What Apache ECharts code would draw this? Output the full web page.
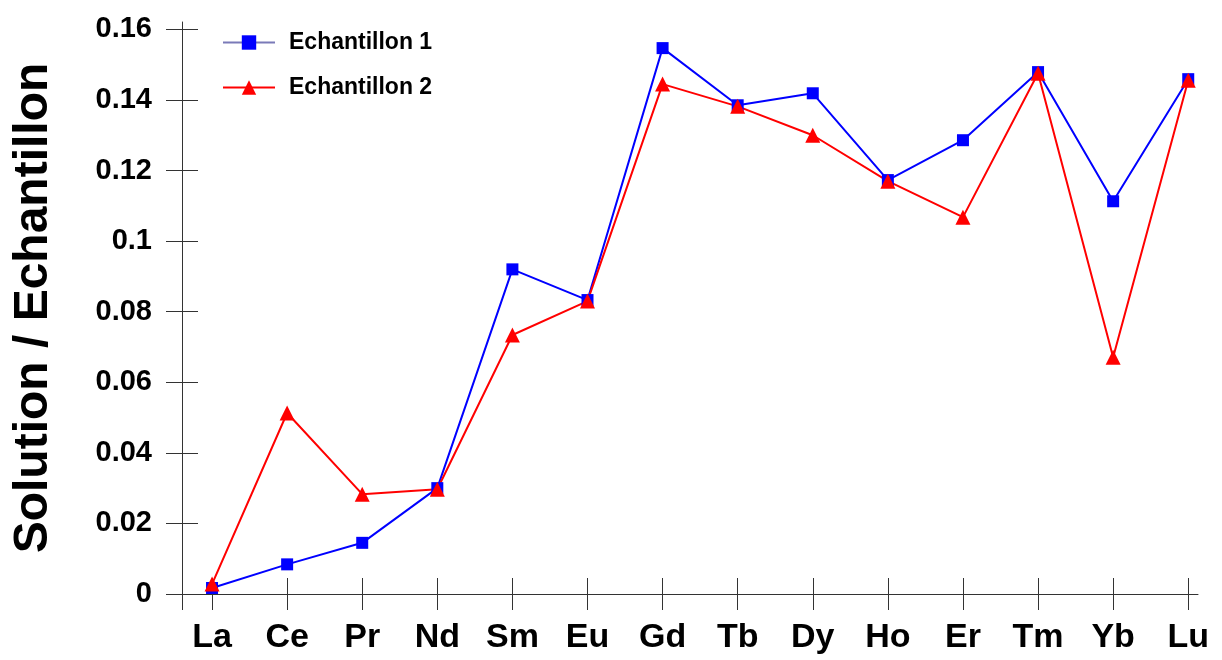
<!DOCTYPE html>
<html>
<head>
<meta charset="utf-8">
<script src="https://cdn.jsdelivr.net/npm/echarts@6/dist/echarts.min.js"></script>
<style>
  html, body { margin: 0; padding: 0; background: #fff; }
  #chart { width: 1222px; height: 660px; }
</style>
</head>
<body>
<div id="chart"></div>
<script>
var categories = ["La", "Ce", "Pr", "Nd", "Sm", "Eu", "Gd", "Tb", "Dy", "Ho", "Er", "Tm", "Yb", "Lu"];
var echantillon1 = [0.0017, 0.0084, 0.0145, 0.0300, 0.0920, 0.0833, 0.1547, 0.1385, 0.1419, 0.1173, 0.1286, 0.1479, 0.1113, 0.1459];
var echantillon2 = [0.0028, 0.0513, 0.0283, 0.0297, 0.0734, 0.0830, 0.1445, 0.1382, 0.1300, 0.1170, 0.1068, 0.1476, 0.0671, 0.1456];
var yTicks = [0, 0.02, 0.04, 0.06, 0.08, 0.1, 0.12, 0.14, 0.16];

var font = "'Liberation Sans', Arial, sans-serif";
var axisColor = "#333";

var xIdx = categories.map(function (c, i) { return i; });
var xTickVals = [-0.4].concat(xIdx);

function toPoints(values) {
  return values.map(function (v, i) { return [i, v]; });
}

var myChart = echarts.init(document.getElementById("chart"));
myChart.setOption({
  animation: false,
  grid: { left: 182, right: 24, top: 22, bottom: 66 },
  legend: {
    left: 222,
    top: 31,
    padding: 0,
    orient: "vertical",
    itemWidth: 52,
    itemHeight: 18,
    itemGap: 22,
    textStyle: {
      fontFamily: font, fontWeight: "bold", fontSize: 23, color: "#000",
      padding: [0, 0, 0, 9]
    },
    data: [
      { name: "Echantillon 1", lineStyle: { color: "#7a7ab8" } },
      { name: "Echantillon 2" }
    ]
  },
  xAxis: [
    {
      type: "value",
      min: -0.4,
      max: 13.13,
      position: "bottom",
      splitLine: { show: false },
      axisLine: { show: true, onZero: false, lineStyle: { color: axisColor, width: 1 } },
      axisTick: { show: true, customValues: xTickVals, length: 16, lineStyle: { color: axisColor } },
      axisLabel: {
        customValues: xIdx,
        margin: 27,
        fontFamily: font,
        fontWeight: "bold",
        fontSize: 34,
        color: "#000",
        formatter: function (v) { return categories[Math.round(v)]; }
      }
    },
    {
      type: "value",
      min: -0.4,
      max: 13.13,
      position: "bottom",
      splitLine: { show: false },
      axisLine: { show: false, onZero: false },
      axisTick: { show: true, inside: true, customValues: xTickVals, length: 16, lineStyle: { color: axisColor } },
      axisLabel: { show: false }
    }
  ],
  yAxis: [
    {
      type: "value",
      min: 0,
      max: 0.1621,
      position: "left",
      name: "Solution / Echantillon",
      nameLocation: "middle",
      nameRotate: 90,
      nameGap: 124,
      nameTextStyle: { fontFamily: font, fontWeight: "bold", fontSize: 48, color: "#000" },
      splitLine: { show: false },
      axisLine: { show: true, onZero: false, lineStyle: { color: axisColor, width: 1 } },
      axisTick: { show: true, customValues: yTicks, length: 16, lineStyle: { color: axisColor } },
      axisLabel: {
        customValues: yTicks,
        margin: 30,
        fontFamily: font,
        fontWeight: "bold",
        fontSize: 29,
        color: "#000"
      }
    },
    {
      type: "value",
      min: 0,
      max: 0.1621,
      position: "left",
      splitLine: { show: false },
      axisLine: { show: false, onZero: false },
      axisTick: { show: true, inside: true, customValues: yTicks, length: 16, lineStyle: { color: axisColor } },
      axisLabel: { show: false }
    }
  ],
  series: [
    {
      name: "Echantillon 1",
      type: "line",
      data: toPoints(echantillon1),
      symbol: "rect",
      symbolSize: 12,
      lineStyle: { color: "#0000ff", width: 2 },
      itemStyle: { color: "#0000ff" }
    },
    {
      name: "Echantillon 2",
      type: "line",
      data: toPoints(echantillon2),
      symbol: "triangle",
      symbolSize: 15,
      lineStyle: { color: "#ff0000", width: 2 },
      itemStyle: { color: "#ff0000" }
    }
  ]
});
</script>
</body>
</html>
